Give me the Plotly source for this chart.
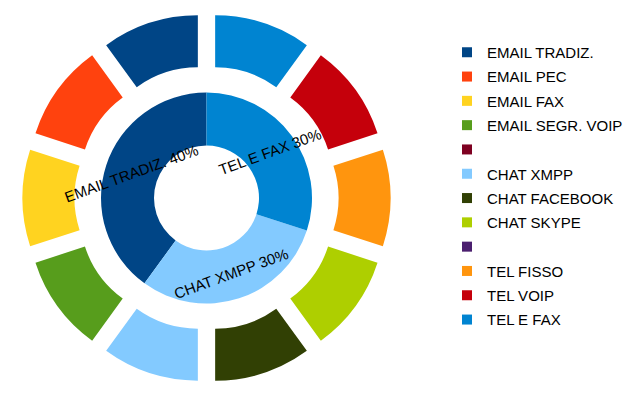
import math
import plotly.graph_objects as go

# ---- data ----
outer_labels = ["EMAIL TRADIZ.", "EMAIL PEC", "EMAIL FAX", "EMAIL SEGR. VOIP", " ",
                "CHAT XMPP", "CHAT FACEBOOK", "CHAT SKYPE", "  ",
                "TEL FISSO", "TEL VOIP", "TEL E FAX"]
outer_values = [10, 10, 10, 10, 0, 10, 10, 10, 0, 10, 10, 10]
outer_colors = ["#004586", "#ff420e", "#ffd320", "#579d1c", "#7e0021",
                "#83caff", "#314004", "#aecf00", "#4b1f6f",
                "#ff950e", "#c5000b", "#0084d1"]

inner_labels = ["EMAIL TRADIZ.", "CHAT XMPP", "TEL E FAX"]
inner_values = [40, 30, 30]
inner_colors = ["#004586", "#83caff", "#0084d1"]

W, H = 640, 398
FONT = "Liberation Sans, Arial, sans-serif"
FS = 15

# geometry (pixels)
cx, cy = 206.5, 198.0
R_out, R_out_in, pull_px = 156.0, 104.0, 28.0
R_in, R_hole = 105.5, 52.5

fig = go.Figure()

# plotly's counterclockwise pies put the first slice just right of 12 o'clock;
# rotate so the first slice starts at 12 o'clock and runs counterclockwise
rot_outer = -outer_values[0] / sum(outer_values) * 360
rot_inner = -inner_values[0] / sum(inner_values) * 360

half = R_out + pull_px
fig.add_trace(go.Pie(
    labels=outer_labels, values=outer_values,
    marker=dict(colors=outer_colors, line=dict(width=0)),
    hole=R_out_in / R_out, pull=pull_px / R_out,
    sort=False, direction="counterclockwise", rotation=rot_outer,
    textinfo="none", hoverinfo="label", showlegend=False,
    domain=dict(x=[(cx - half) / W, (cx + half) / W],
                y=[(H - cy - half) / H, (H - cy + half) / H]),
))
fig.add_trace(go.Pie(
    labels=inner_labels, values=inner_values,
    marker=dict(colors=inner_colors, line=dict(width=0)),
    hole=R_hole / R_in,
    sort=False, direction="counterclockwise", rotation=rot_inner,
    textinfo="none", hoverinfo="label+percent", showlegend=False,
    domain=dict(x=[(cx - R_in) / W, (cx + R_in) / W],
                y=[(H - cy - R_in) / H, (H - cy + R_in) / H]),
))

# legend entries
for i, (lab, col) in enumerate(zip(outer_labels, outer_colors)):
    fig.add_trace(go.Scatter(
        x=[None], y=[None], mode="markers", name=lab,
        marker=dict(symbol="square", size=10, color=col),
        legendgroup=f"g{i}", showlegend=True,
    ))

# inner ring labels, rotated, at mid ring along slice bisector (counterclockwise from top)
total = sum(inner_values)
r_mid = (R_in + R_hole) / 2
acc = 0.0
annotations = []
for lab, v in zip(inner_labels, inner_values):
    mid = (acc + v / 2) / total * 2 * math.pi
    acc += v
    px = cx - r_mid * math.sin(mid)
    py = cy - r_mid * math.cos(mid)
    pct = round(v / total * 100)
    annotations.append(dict(
        x=px / W, y=1 - py / H, xref="paper", yref="paper",
        text=f"{lab} {pct}%", showarrow=False, textangle=-20,
        font=dict(family=FONT, size=FS, color="#000000"),
        xanchor="center", yanchor="middle",
    ))

fig.update_layout(
    width=W, height=H,
    margin=dict(l=0, r=0, t=0, b=0),
    paper_bgcolor="white", plot_bgcolor="white",
    xaxis=dict(visible=False), yaxis=dict(visible=False),
    annotations=annotations,
    legend=dict(x=447 / W, y=1 - 36 / H, xanchor="left", yanchor="top",
                traceorder="grouped", tracegroupgap=24.3 - (FS * 1.3 + 3),
                font=dict(family=FONT, size=FS, color="#000000"),
                bgcolor="rgba(0,0,0,0)"),
)

fig.write_html("out.html", config={"displayModeBar": False},
               post_script="document.body.style.margin='0px';")
